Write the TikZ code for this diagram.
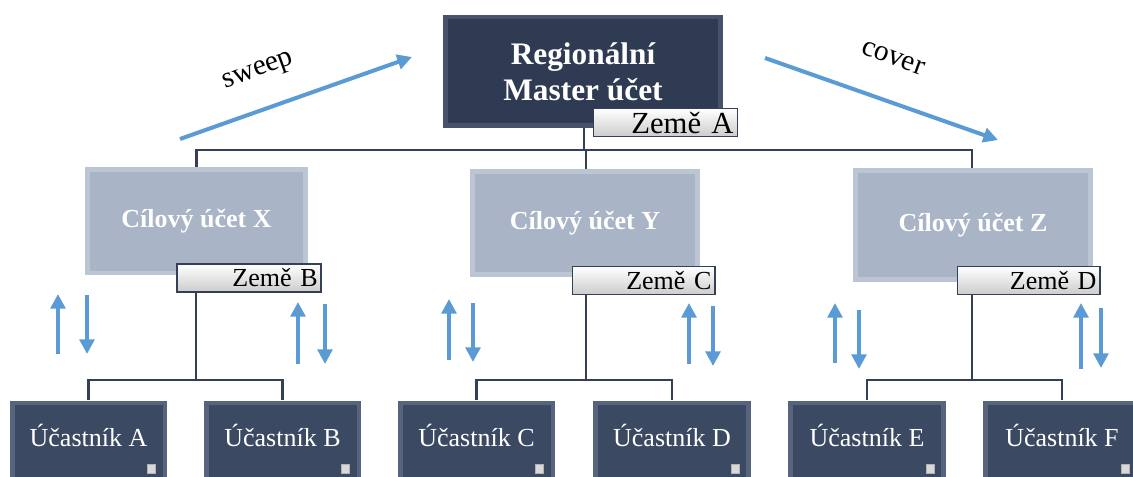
\documentclass[tikz,border=0pt]{standalone}
\usepackage{fontspec}
\setmainfont{Liberation Serif}
\usetikzlibrary{arrows.meta}
\definecolor{masterC}{HTML}{2F3B52}
\definecolor{masterE}{HTML}{47536A}
\definecolor{targetC}{HTML}{A9B4C6}
\definecolor{targetE}{HTML}{BCC5D3}
\definecolor{partC}{HTML}{3B4963}
\definecolor{partE}{HTML}{56647D}
\definecolor{lineC}{HTML}{334058}
\definecolor{arrowC}{HTML}{5B9BD5}
\pgfdeclarelayer{bg}
\pgfsetlayers{bg,main}
\tikzset{
  bevel/.style 2 args={fill=#1, path picture={
      \fill[#2] ([shift={(3.5pt,-3.5pt)}]path picture bounding box.north west)
        rectangle ([shift={(-3.5pt,3.5pt)}]path picture bounding box.south east);}},
  masterbox/.style={bevel={masterE}{masterC}, minimum width=210pt, minimum height=85pt,
      text=white, font=\bfseries\fontsize{23.5}{27}\selectfont, align=center, inner sep=0pt},
  targetbox/.style={bevel={targetE}{targetC}, minimum height=81pt,
      text=white, font=\bfseries\fontsize{19.5}{22}\selectfont, inner sep=0pt},
  partbox/.style={bevel={partE}{partC}, minimum width=118pt, minimum height=68pt,
      text=white, font=\fontsize{19.5}{22}\selectfont, inner sep=0pt, text depth=16pt},
  tagbox/.style={draw=lineC, line width=1pt, top color=white, bottom color=black!20,
      minimum height=21pt, inner sep=0pt, align=right, text=black},
  conn/.style={draw=lineC, line width=1.6pt},
  barrow/.style={draw=arrowC, line width=3pt, -{Triangle[length=11pt,width=11pt]}},
  icon/.style={fill=black!15, draw=black!30, line width=0.3pt, minimum width=6pt, minimum height=7pt, inner sep=0pt},
  lbl/.style={font=\fontsize{22}{24}\selectfont, text=black, inner sep=1pt}
}
\begin{document}
\begin{tikzpicture}[x=0.75pt,y=-0.75pt]
\clip (0,0) rectangle (1133,477);

% master
\node[masterbox] (M) at (583,71.5) {Regionální\\Master účet};
\node[tagbox, minimum width=108pt, font=\fontsize{23}{24}\selectfont, text width=102pt] (tA) at (665.5,122.5) {Země A};

% targets
\node[targetbox, minimum width=167pt] (X) at (196.5,221.5) {Cílový účet X};
\node[targetbox, minimum width=172pt] (Y) at (585,223) {Cílový účet Y};
\node[targetbox, minimum width=180pt, minimum height=85pt] (Z) at (973,225) {Cílový účet Z};
\node[tagbox, minimum width=108pt, font=\fontsize{19.5}{22}\selectfont, text width=103pt] (tB) at (249,278) {Země B};
\node[tagbox, minimum width=107pt, font=\fontsize{19.5}{22}\selectfont, text width=102pt] (tC) at (643.5,280.5) {Země C};
\node[tagbox, minimum width=107pt, font=\fontsize{19.5}{22}\selectfont, text width=102pt] (tD) at (1028.5,280.5) {Země D};

% participants
\node[partbox] (pA) at (88.5,446) {Účastník A};
\node[partbox] (pB) at (282.5,446) {Účastník B};
\node[partbox] (pC) at (476.5,446) {Účastník C};
\node[partbox] (pD) at (672,446) {Účastník D};
\node[partbox] (pE) at (867,446) {Účastník E};
\node[partbox] (pF) at (1062,446) {Účastník F};
\foreach \p/\x in {A/88.5,B/282.5,C/476.5,D/672,E/867,F/1062}{
  \node[icon] (i\p) at (\x+63,469) {};
}

% connectors
\coordinate (j0) at (584,150);
\coordinate (jX) at (196,380);
\coordinate (jY) at (586,380);
\coordinate (jZ) at (972,380);
\begin{pgfonlayer}{bg}
\fill[white] (0,0) rectangle (1133,477);
\draw[conn] (M.south -| j0) -- (j0);
\draw[conn] (j0) -| (X.north);
\draw[conn] (j0) -| (Z.north -| jZ);
\draw[conn] (j0) -| (Y.north -| jY);
\draw[conn] (X.south -| jX) -- (jX);
\draw[conn] (jX) -| (pA.north);
\draw[conn] (jX) -| (pB.north);
\draw[conn] (Y.south -| jY) -- (jY);
\draw[conn] (jY) -| (pC.north);
\draw[conn] (jY) -| (pD.north);
\draw[conn] (Z.south -| jZ) -- (jZ);
\draw[conn] (jZ) -| (pE.north);
\draw[conn] (jZ) -| (pF.north);
\end{pgfonlayer}

% blue arrows
\coordinate (s0) at (180,139); \coordinate (s1) at (412,57);
\coordinate (c0) at (765,58); \coordinate (c1) at (998,140);
\draw[barrow] (s0) -- (s1);
\draw[barrow] (c0) -- (c1);
\node[lbl, rotate=20] (sw) at (259,72) {sweep};
\node[lbl, rotate=-20] (cv) at (893,58) {cover};

\foreach \n/\x/\a/\b in {a1/58/354/294, a3/298/364/302, a5/449/360/299, a7/689/364/303, a9/835/363/303, a11/1081/369/303}{
  \coordinate (\n s) at (\x,\a); \coordinate (\n e) at (\x,\b);
  \draw[barrow] (\n s) -- (\n e);
}
\foreach \n/\x/\a/\b in {a2/87/295/354, a4/325/304/364, a6/473/303/362, a8/713/306/366, a10/859/310/369, a12/1101/308/368}{
  \coordinate (\n s) at (\x,\a); \coordinate (\n e) at (\x,\b);
  \draw[barrow] (\n s) -- (\n e);
}
\end{tikzpicture}
\end{document}
